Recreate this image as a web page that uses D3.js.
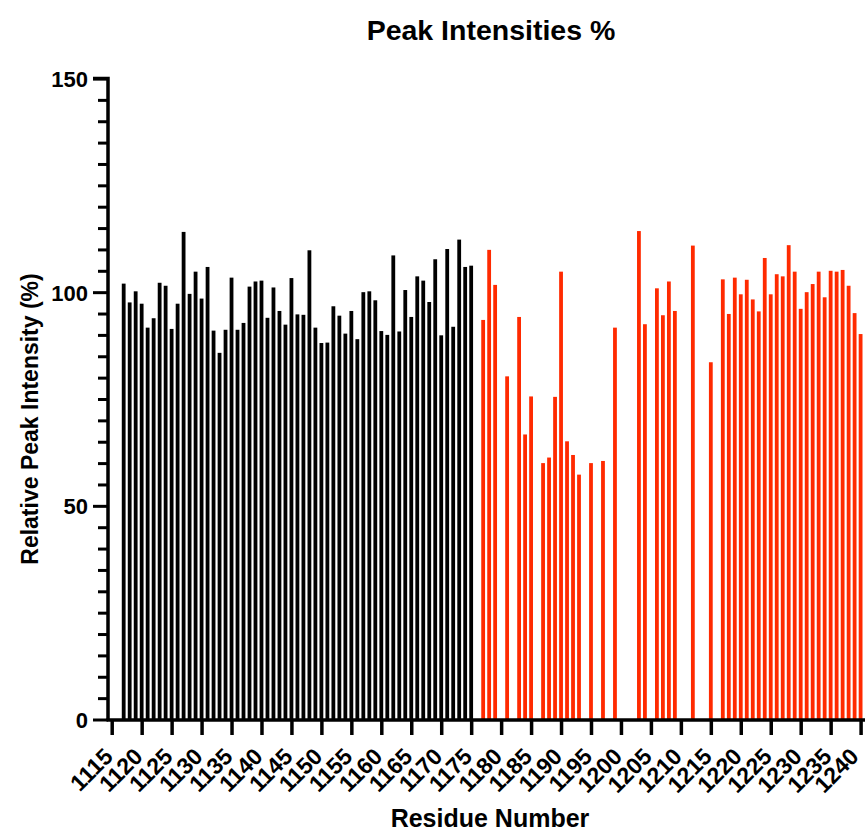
<!DOCTYPE html>
<html>
<head>
<meta charset="utf-8">
<script src="https://cdn.jsdelivr.net/npm/d3@7"></script>
<style>
  body { margin: 0; background: #fff; }
  text { font-family: "Liberation Sans", Arial, sans-serif; font-weight: bold; fill: #000; }
</style>
</head>
<body>
<svg id="chart"></svg>
<script>
// DATA
const blackResidues = [1117,1118,1119,1120,1121,1122,1123,1124,1125,1126,1127,1128,1129,1130,1131,1132,1133,1134,1135,1136,
  1137,1138,1139,1140,1141,1142,1143,1144,1145,1146,1147,1148,1149,1150,1151,1152,1153,1154,1155,1156,
  1157,1158,1159,1160,1161,1162,1163,1164,1165,1166,1167,1168,1169,1170,1171,1172,1173,1174,1175];
const blackValues = [102.0,97.6,100.2,97.3,91.7,93.9,102.2,101.5,91.4,97.3,114.1,99.6,104.8,98.5,105.9,91.0,85.8,91.2,103.4,91.2,
  92.8,101.3,102.5,102.7,94.0,101.1,95.6,92.4,103.3,94.8,94.7,109.8,91.7,88.1,88.2,96.7,94.5,90.3,95.6,89.0,
  100.0,100.2,98.1,90.9,90.0,108.6,90.8,100.5,94.2,103.7,102.7,97.7,107.7,89.9,110.1,91.9,112.3,105.9,106.2];

const redResidues = [1177,1178,1179,1181,1183,1184,1185,1187,1188,1189,1190,1191,1192,1193,1195,1197,1199,1203,1204,1206,
  1207,1208,1209,1212,1215,1217,1218,1219,1220,1221,1222,1223,1224,1225,1226,1227,1228,1229,1230,1231,
  1232,1233,1234,1235,1236,1237,1238,1239,1240];
const redValues = [93.5,109.9,101.7,80.3,94.2,66.7,75.6,60.0,61.3,75.5,104.8,65.1,61.9,57.3,60.0,60.5,91.7,114.3,92.5,100.9,
  94.6,102.5,95.6,110.9,83.6,103.0,94.9,103.4,99.5,102.9,98.3,95.5,108.0,99.5,104.2,103.7,111.0,104.8,96.1,100.0,
  101.9,104.8,98.8,105.0,104.8,105.2,101.5,95.1,90.2];

const xTicks = [1115,1120,1125,1130,1135,1140,1145,1150,1155,1160,1165,1170,1175,1180,1185,1190,1195,1200,1205,1210,1215,1220,1225,1230,1235,1240];
const yTicks = [0, 50, 100, 150];

// SIZES
const width = 865, height = 832;
const svg = d3.select('#chart').attr('width', width).attr('height', height);

const x = d3.scaleLinear().domain([1115, 1240]).range([111.7, 860.6]);
const y = d3.scaleLinear().domain([0, 150]).range([719.5, 78.5]);
const barW = 3.8;

// BARS
const series = [
  {res: blackResidues, vals: blackValues, color: '#000000'},
  {res: redResidues, vals: redValues, color: '#ff2a00'}
];
series.forEach(s => {
  svg.append('g').selectAll('rect')
    .data(s.res.map((r, i) => ({r: r, v: s.vals[i]})))
    .enter().append('rect')
      .attr('x', d => x(d.r) - barW / 2)
      .attr('y', d => y(d.v))
      .attr('width', barW)
      .attr('height', d => y(0) - y(d.v))
      .attr('fill', s.color);
});

// Y AXIS
const yAxis = svg.append('g').attr('transform', 'translate(108,0)')
  .call(d3.axisLeft(y).tickValues(d3.range(0, 151, 5)).tickSize(10).tickFormat(''));
yAxis.selectAll('line').attr('stroke-width', 3);
yAxis.selectAll('.tick').filter(d => yTicks.includes(d)).select('line').attr('x2', -15);
yAxis.select('.domain').attr('stroke-width', 3.5).attr('d', `M-15,${y(150)}H0V${y(0) + 1.5}`);
yAxis.selectAll('.tick').filter(d => yTicks.includes(d)).append('text')
  .attr('x', -20).attr('dy', '0.36em')
  .attr('text-anchor', 'end')
  .style('font-size', '22px')
  .text(d => d);

// X AXIS
const xAxis = svg.append('g').attr('transform', 'translate(0,720)')
  .call(d3.axisBottom(x).tickValues(xTicks).tickSize(15).tickFormat(''));
xAxis.selectAll('line').attr('stroke-width', 3.5);
xAxis.select('.domain').attr('stroke-width', 3.5).attr('d', `M106.5,0H${width}`);
xAxis.selectAll('.tick').append('text')
  // last label sits right at the edge, pull it in a little
  .attr('transform', d => `translate(${d === 1240 ? -1 : 2},38) rotate(-45)`)
  .attr('text-anchor', 'end')
  .style('font-size', '23px')
  .text(d => d);

// TITLES
svg.append('text').attr('x', 491).attr('y', 40).attr('text-anchor', 'middle')
  .style('font-size', '28.5px').text('Peak Intensities %');
svg.append('text').attr('x', 490).attr('y', 827).attr('text-anchor', 'middle')
  .style('font-size', '25px').text('Residue Number');
svg.append('text').attr('transform', 'translate(38,419) rotate(-90)').attr('text-anchor', 'middle')
  .style('font-size', '23px').text('Relative Peak Intensity (%)');
</script>
</body>
</html>
